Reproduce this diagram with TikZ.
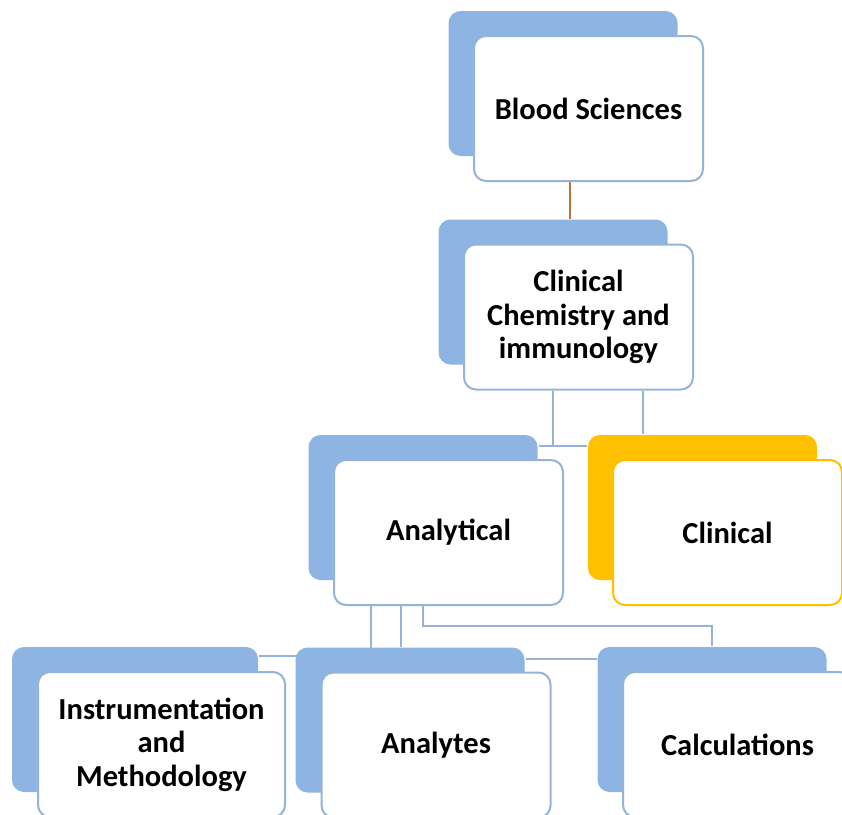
\documentclass[tikz,border=0pt]{standalone}
\usepackage{fontspec}
\setmainfont{Carlito}
\usepackage{xcolor}
\usetikzlibrary{calc,backgrounds}

\definecolor{boxblue}{HTML}{8EB4E3}
\definecolor{lineblue}{HTML}{95B3D7}
\definecolor{gold}{HTML}{FFC000}
\definecolor{rust}{HTML}{C0702F}

\begin{document}
\begin{tikzpicture}[x=1pt, y=-1pt, line width=2pt,
    bk/.style={fill=boxblue, rounded corners=12pt, minimum width=229pt, minimum height=145pt, inner sep=0pt},
    card/.style={draw=lineblue, line width=2pt, fill=white, rounded corners=12pt, minimum width=229pt, minimum height=145pt,
        inner sep=0pt, align=center, font=\fontsize{30.5}{33.5}\selectfont\bfseries},
    link/.style={draw=lineblue, line width=2pt}]
    \useasboundingbox (0,0) rectangle (842,814);
    \clip (0,0) rectangle (842,814);

    % back plates, then the white cards
    \node[bk] (blood-bk) at (563,83.5) {};
    \node[card] (blood) at (588.5,108.5) {Blood Sciences};

    \node[bk] (chem-bk) at (553,292) {};
    \node[card] (chem) at (578.5,317) {Clinical\\Chemistry and\\immunology};

    \node[bk] (ana-bk) at (423,507.5) {};
    \node[card] (ana) at (448.5,532.5) {Analytical};

    \node[bk, fill=gold] (clin-bk) at (702.5,507.5) {};
    \node[card, draw=gold] (clin) at (727.5,532.5) {Clinical};

    \node[bk, minimum width=246pt] (ins-bk) at (135,719.5) {};
    \node[card, minimum width=247pt] (ins) at (161.5,744.5) {Instrumentation\\and\\Methodology};

    \node[bk] (lyt-bk) at (410,720) {};
    \node[card] (lyt) at (436,745) {Analytes};

    \node[bk] (calc-bk) at (712,719.5) {};
    \node[card] (calc) at (737.5,744.5) {Calculations};

    % connectors, behind everything
    \begin{scope}[on background layer]
        \coordinate (b1) at ($(blood.south west)!0.42!(blood.south east)$);
        \draw[draw=rust, line width=2pt] (b1) -- (b1 |- chem-bk.north);

        \coordinate (c1) at ($(chem.south west)!0.39!(chem.south east)$);
        \coordinate (c2) at ($(chem.south west)!0.78!(chem.south east)$);
        \draw[link] (c1) |- ([yshift=-12pt]ana-bk.north east);
        \draw[link] ([yshift=-12pt]ana-bk.north east) -- ([yshift=-12pt]clin-bk.north west);
        \draw[link] (c2) -- (c2 |- clin-bk.north);

        \coordinate (a1) at ($(ana.south west)!0.166!(ana.south east)$);
        \coordinate (a2) at ($(ana.south west)!0.293!(ana.south east)$);
        \coordinate (a3) at ($(ana.south west)!0.389!(ana.south east)$);
        \draw[link] (a1) |- ([yshift=-10pt]ins-bk.north east);
        \draw[link] (a2) -- (a2 |- lyt-bk.north);
        \draw[link] (a3) -- ++(0,20) -| (calc-bk.north);
        \coordinate (l1) at ([yshift=-12pt]lyt-bk.north east);
        \draw[link] (l1) -- (l1 -| calc-bk.west);
    \end{scope}
\end{tikzpicture}
\end{document}
